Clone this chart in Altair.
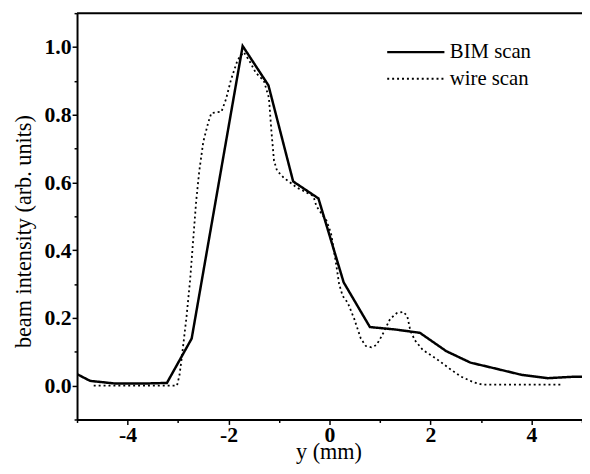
import altair as alt
import pandas as pd

# ---- data ----
series_names = ["BIM scan", "wire scan"]

bim_x = [-5.0, -4.74, -4.23, -3.73, -3.22, -2.73, -1.72, -1.21, -0.72, -0.22,
         0.28, 0.80, 1.29, 1.79, 2.31, 2.79, 3.30, 3.80, 4.32, 4.80, 5.0]
bim_y = [0.034, 0.014, 0.006, 0.006, 0.008, 0.139, 1.003, 0.887, 0.603, 0.553,
         0.305, 0.173, 0.166, 0.156, 0.102, 0.068, 0.050, 0.032, 0.022, 0.026, 0.026]

wire_x = [-4.67, -3.02, -2.97, -2.92, -2.83, -2.76, -2.70, -2.64, -2.58, -2.50,
          -2.40, -2.34, -2.14, -2.05, -1.95, -1.82, -1.70, -1.59, -1.46, -1.30,
          -1.20, -1.15, -1.10, -1.04, -0.90, -0.78, -0.65, -0.45, -0.32, -0.26,
          -0.06, 0.03, 0.13, 0.19, 0.26, 0.36, 0.49, 0.62, 0.72, 0.83,
          0.93, 1.04, 1.20, 1.33, 1.46, 1.54, 1.60, 1.69, 1.85, 2.11,
          2.37, 2.60, 2.85, 3.02, 4.62]
wire_y = [0.0, 0.0, 0.032, 0.09, 0.206, 0.313, 0.43, 0.546, 0.633, 0.72,
          0.778, 0.805, 0.809, 0.846, 0.904, 0.962, 0.985, 0.96, 0.924, 0.90,
          0.85, 0.75, 0.665, 0.635, 0.613, 0.600, 0.585, 0.57, 0.56, 0.53,
          0.487, 0.45, 0.36, 0.30, 0.265, 0.245, 0.197, 0.139, 0.117, 0.113,
          0.12, 0.148, 0.197, 0.214, 0.218, 0.205, 0.163, 0.134, 0.105, 0.08,
          0.051, 0.027, 0.01, 0.003, 0.003]

x_ticks = [-5, -4, -3, -2, -1, 0, 1, 2, 3, 4, 5]
y_ticks = [-0.1, 0.0, 0.1, 0.2, 0.3, 0.4, 0.5, 0.6, 0.7, 0.8, 0.9, 1.0, 1.1]
x_domain = [-5, 5]
y_domain = [-0.1, 1.1]

df = pd.concat([
    pd.DataFrame({"x": bim_x, "y": bim_y, "series": series_names[0]}),
    pd.DataFrame({"x": wire_x, "y": wire_y, "series": series_names[1]}),
], ignore_index=True)

FONT = "Liberation Serif"

x_enc = alt.X(
    "x:Q",
    scale=alt.Scale(domain=x_domain, nice=False, zero=False),
    axis=alt.Axis(
        title="y (mm)",
        values=x_ticks,
        labelExpr="datum.value % 2 === 0 ? '' + datum.value : ''",
        tickSize={"condition": {"test": "datum.value % 2 !== 0", "value": 3}, "value": 5},
        labelPadding=0,
        labelFlush=False,
        labelOverlap=False,
        titleX=255,
        titleY=40,
        titleBaseline="alphabetic",
        titleAlign="center",
    ),
)
y_enc = alt.Y(
    "y:Q",
    scale=alt.Scale(domain=y_domain, nice=False, zero=False),
    axis=alt.Axis(
        title="beam intensity (arb. units)",
        values=y_ticks,
        format=".1f",
        labelExpr="floor(datum.value * 10 + 0.5) % 2 == 0 ? datum.label : ''",
        tickSize={"condition": {"test": "floor(datum.value * 10 + 0.5) % 2 != 0", "value": 3}, "value": 5},
        labelPadding=1,
        labelFlush=False,
        labelOverlap=False,
        titleX=-47,
        titleY=221,
        titleAngle=270,
        titleBaseline="alphabetic",
        titleAlign="center",
    ),
)

legend = alt.Legend(
    title=None,
    orient="none",
    legendX=313,
    legendY=26,
    symbolType="stroke",
    symbolSize=3364,
    symbolStrokeColor="black",
    labelFont=FONT,
    labelFontSize=21,
    labelColor="black",
    labelOffset=4,
    clipHeight=27,
    rowPadding=0,
)

lines = alt.Chart(df).mark_line(color="black", clip=True).encode(
    x=x_enc,
    y=y_enc,
    strokeDash=alt.StrokeDash(
        "series:N", scale=alt.Scale(domain=series_names, range=[[1, 0], [2, 3]]), legend=legend
    ),
    strokeWidth=alt.StrokeWidth(
        "series:N", scale=alt.Scale(domain=series_names, range=[2.5, 1.8]), legend=legend
    ),
    order="x:Q",
)

# top frame edge (decoration, pixel-positioned)
top = alt.Chart(pd.DataFrame({"t": [0]})).mark_rule(color="black", strokeWidth=2).encode(
    y=alt.value(0)
)

chart = alt.layer(lines, top).properties(
    width=512,
    height=412,
    autosize=alt.AutoSizeParams(type="none"),
    padding={"left": 70, "top": 2, "right": 0, "bottom": 50},
    background="white",
).configure_view(stroke=None).configure_axis(
    grid=False,
    domainColor="black",
    domainWidth=2,
    tickColor="black",
    tickWidth=1.5,
    labelFont=FONT,
    labelFontSize=22,
    labelFontWeight="bold",
    labelColor="black",
    titleFont=FONT,
    titleFontSize=22.5,
    titleFontWeight="normal",
    titleColor="black",
)

chart.save("out.html", embed_options={"renderer": "svg", "actions": False})
